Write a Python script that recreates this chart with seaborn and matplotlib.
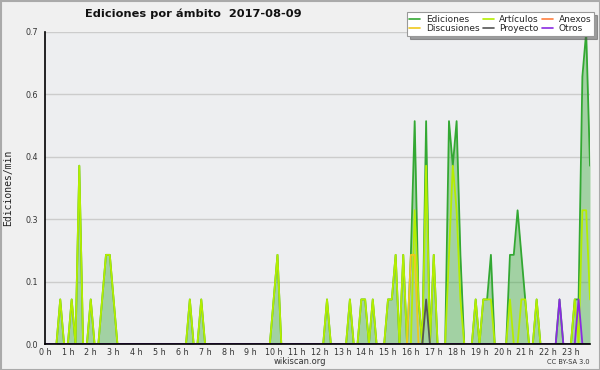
import numpy as np
import pandas as pd
import matplotlib
matplotlib.use("Agg")
import matplotlib.pyplot as plt
import seaborn as sns
from matplotlib.ticker import MultipleLocator, FormatStrFormatter, FixedLocator
from matplotlib.lines import Line2D
from matplotlib.patches import Rectangle

# 10-minute bins, 0:00 .. 23:50 (edits per minute)
ediciones = [
    0, 0, 0, 0, .1, 0, 0, .1, 0, .4, 0, 0,
    .1, 0, 0, .1, .2, .2, .1, 0, 0, 0, 0, 0,
    0, 0, 0, 0, 0, 0, 0, 0, 0, 0, 0, 0,
    0, 0, .1, 0, 0, .1, 0, 0, 0, 0, 0, 0,
    0, 0, 0, 0, 0, 0, 0, 0, 0, 0, 0, 0,
    .1, .2, 0, 0, 0, 0, 0, 0, 0, 0, 0, 0,
    0, 0, .1, 0, 0, 0, 0, 0, .1, 0, 0, .1,
    .1, 0, .1, 0, 0, 0, .1, .1, .2, 0, .2, 0,
    .2, .5, .1, 0, .5, 0, .2, 0, 0, 0, .5, .4,
    .5, .2, 0, 0, 0, .1, 0, .1, .1, .2, 0, 0,
    0, 0, .2, .2, .3, .2, .1, 0, 0, .1, 0, 0,
    0, 0, 0, .1, 0, 0, 0, .1, .1, .6, .7, .4,
]
articulos = [
    0, 0, 0, 0, .1, 0, 0, .1, 0, .4, 0, 0,
    .1, 0, 0, .1, .2, .2, .1, 0, 0, 0, 0, 0,
    0, 0, 0, 0, 0, 0, 0, 0, 0, 0, 0, 0,
    0, 0, .1, 0, 0, .1, 0, 0, 0, 0, 0, 0,
    0, 0, 0, 0, 0, 0, 0, 0, 0, 0, 0, 0,
    .1, .2, 0, 0, 0, 0, 0, 0, 0, 0, 0, 0,
    0, 0, .1, 0, 0, 0, 0, 0, .1, 0, 0, .1,
    .1, 0, .1, 0, 0, 0, .1, .1, .2, 0, .2, 0,
    0, .3, .1, 0, .4, 0, .2, 0, 0, 0, .2, .4,
    .3, .1, 0, 0, 0, .1, 0, .1, .1, .1, 0, 0,
    0, 0, .1, 0, 0, .1, .1, 0, 0, .1, 0, 0,
    0, 0, 0, 0, 0, 0, 0, .1, 0, .3, .3, .1,
]
anexos = [0] * 144
discusiones = [0] * 96 + [.2, .2] + [0] * 46
proyecto = [0] * 100 + [.1] + [0] * 43
otros = [0] * 135 + [.1] + [0] * 4 + [.1] + [0] * 3

series_names = ["Ediciones", "Artículos", "Anexos", "Discusiones", "Proyecto", "Otros"]
series_vals = [ediciones, articulos, anexos, discusiones, proyecto, otros]
colors = {
    "Ediciones": "#33a833",
    "Artículos": "#b4ee00",
    "Anexos": "#ff7f3f",
    "Discusiones": "#f0c81e",
    "Proyecto": "#555555",
    "Otros": "#8a2be2",
}
hour_labels = [f"{h} h" for h in range(24)]

hours = np.arange(144) / 6.0
df = pd.concat(
    [pd.DataFrame({"hora": hours, "valor": v, "serie": n}) for n, v in zip(series_names, series_vals)],
    ignore_index=True,
)

sns.set_style("white")
plt.rcParams["font.family"] = ["DejaVu Sans"]

fig = plt.figure(figsize=(6, 3.7), dpi=100, facecolor="#f0f0f0")
ax = fig.add_axes([45 / 600, 1 - 344 / 370, 545 / 600, 312 / 370])
ax.set_facecolor("#edeef0")

ax.fill_between(hours, ediciones, 0, color="#3aaa3a", alpha=0.42, linewidth=0, zorder=1)
sns.lineplot(data=df, x="hora", y="valor", hue="serie", hue_order=series_names,
             palette=colors, linewidth=1.3, legend=False, ax=ax, zorder=3)

ax.set_xlim(0, hours[-1])
ax.set_ylim(0, 0.7)
ax.yaxis.set_major_locator(MultipleLocator(0.14))
ax.yaxis.set_minor_locator(MultipleLocator(0.035))
ax.yaxis.set_major_formatter(FormatStrFormatter("%.1f"))
ax.xaxis.set_major_locator(FixedLocator(list(range(24))))
ax.set_xticklabels(hour_labels)
ax.xaxis.set_minor_locator(MultipleLocator(1 / 6))
ax.grid(axis="y", color="#cccccc", linewidth=1)
ax.set_axisbelow(True)

for s in ["top", "right"]:
    ax.spines[s].set_visible(False)
for s in ["left", "bottom"]:
    ax.spines[s].set_color("black")
    ax.spines[s].set_linewidth(1.2)
    ax.spines[s].set_zorder(5)

ax.tick_params(axis="y", which="major", direction="out", length=4, width=1,
               labelsize=5.8, labelcolor="#333333", pad=1)
ax.tick_params(axis="y", which="minor", direction="out", length=2.5, width=1)
ax.tick_params(axis="x", which="major", direction="out", length=3, width=1,
               labelsize=5.8, labelcolor="#333333", pad=0)
ax.tick_params(axis="x", which="minor", direction="out", length=3, width=1)
ax.set_xlabel("")
ax.set_ylabel("Ediciones/min", family="DejaVu Sans Mono", fontsize=7, color="#222222", labelpad=9)

fig.text(85 / 600, 1 - 14 / 370, "Ediciones por ámbito  2017-08-09", fontsize=8.2,
         fontweight="bold", ha="left", va="center", color="#111111")
fig.text(300 / 600, 1 - 362 / 370, "wikiscan.org", fontsize=6, ha="center", va="center", color="#333333")
fig.text(590 / 600, 1 - 362 / 370, "CC BY-SA 3.0", fontsize=4.8, ha="right", va="center", color="#333333")

handles = [Line2D([0], [0], color=colors[n], lw=1.2) for n in series_names]
order = [0, 3, 1, 4, 2, 5]
leg = fig.legend([handles[i] for i in order], [series_names[i] for i in order],
                 ncol=3, loc="upper right", bbox_to_anchor=(594 / 600, 1 - 12 / 370),
                 fontsize=6.5, frameon=True, fancybox=False, shadow=True,
                 edgecolor="#999999", handlelength=1.2, handletextpad=0.6,
                 columnspacing=0.4, labelspacing=0.05, borderpad=0.3,
                 borderaxespad=0)
leg.get_frame().set_linewidth(0.8)

fig.patches.append(Rectangle((0.5 / 600, 0.5 / 370), 599 / 600, 369 / 370, transform=fig.transFigure,
                             fill=False, edgecolor="#aaaaaa", linewidth=1.5))

fig.savefig("out.png", dpi=100, facecolor=fig.get_facecolor())
